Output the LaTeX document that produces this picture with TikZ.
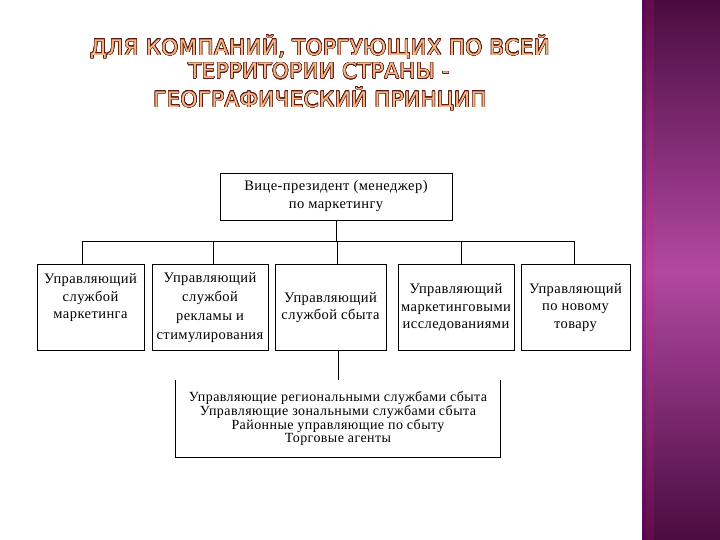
\documentclass[tikz,border=0pt]{standalone}
\usepackage{fontspec}
\setmainfont{Liberation Serif}
\newfontfamily\boxfont{Liberation Serif}[LetterSpace=3]
\newfontfamily\titlefont{DejaVu Sans}[LetterSpace=1.5]
\usepackage[copies]{contour}
\contourlength{0.5pt}
\contournumber{24}
\usetikzlibrary{positioning}
\definecolor{titleline}{HTML}{5A1A12}
\definecolor{titlefill}{HTML}{F4B888}
\definecolor{banddark}{HTML}{4A0C40}
\definecolor{bandmid}{HTML}{B248A2}
\begin{document}
\begin{tikzpicture}[x=1pt,y=-1pt,
  orgbox/.style={draw=black, line width=0.8pt, minimum height=86pt, inner sep=0pt, align=center,
     font=\boxfont\fontsize{14.5}{17.5}\selectfont},
  link/.style={draw=black, line width=0.8pt},
  ttl/.style={font=\titlefont\fontsize{21.5}{24}\selectfont, inner sep=0pt}]
\useasboundingbox (0,0) rectangle (720,540);
\fill[white] (0,0) rectangle (720,540);
% right band
\shade[top color=banddark, bottom color=banddark, middle color=bandmid] (642,0) rectangle (720,540);
\fill[blue!40!purple, opacity=0.25] (642,0) rectangle (646,540);
\fill[magenta!70!purple, opacity=0.15] (646,0) rectangle (654,540);
% title
\node[ttl] (t1) at (320,47) {\contour{titleline}{\color{titlefill}ДЛЯ КОМПАНИЙ, ТОРГУЮЩИХ ПО ВСЕЙ}};
\node[ttl] (t2) at (319,71) {\contour{titleline}{\color{titlefill}ТЕРРИТОРИИ СТРАНЫ -}};
\node[ttl] (t3) at (320,99) {\contour{titleline}{\color{titlefill}ГЕОГРАФИЧЕСКИЙ ПРИНЦИП}};
% top box
\node[orgbox, minimum width=232pt, minimum height=47pt, font=\boxfont\fontsize{14.5}{18}\selectfont] (vp) at (336,196.5) {Вице-президент (менеджер)\\по маркетингу};
% row boxes
\node[orgbox, minimum width=107pt] (b1) at (90.5,307.5) {Управляющий\\службой\\маркетинга\\[5pt]\mbox{}};
\node[orgbox, minimum width=116pt, font=\boxfont\fontsize{14.5}{19}\selectfont] (b2) at (210,307.5) {Управляющий\\службой\\рекламы и\\стимулирования};
\node[orgbox, minimum width=111pt] (b3) at (330.5,307.5) {Управляющий\\службой сбыта};
\node[orgbox, minimum width=116pt] (b4) at (456,307.5) {Управляющий\\маркетинговыми\\исследованиями};
\node[orgbox, minimum width=109pt] (b5) at (575.5,307.5) {Управляющий\\по новому\\товару};
% bottom box (open top)
\node[inner sep=0pt, minimum width=324pt, minimum height=77pt, align=center,
  font=\boxfont\fontsize{14}{13}\selectfont] (bot) at (338,418.5)
  {Управляющие региональными службами сбыта\\Управляющие зональными службами сбыта\\Районные управляющие по сбыту\\Торговые агенты};
\draw[link] (bot.north west) -- (bot.south west) -- (bot.south east) -- (bot.north east);
% connectors
\coordinate (bus) at (336,241);
\coordinate (c1) at ([xshift=-8pt]b1.north);
\coordinate (c2) at ([xshift=3pt]b2.north);
\coordinate (c3) at ([xshift=6.5pt]b3.north);
\coordinate (c4) at ([xshift=5pt]b4.north);
\coordinate (c5) at ([xshift=-1.5pt]b5.north);
\draw[link] (vp.south) -- (bus);
\draw[link] (c1 |- bus) -- (c5 |- bus);
\foreach \c in {c1,c2,c3,c4,c5} \draw[link] (\c) -- (\c |- bus);
\draw[link] (b3.south -| bot.north) -- (bot.north);
\end{tikzpicture}
\end{document}
